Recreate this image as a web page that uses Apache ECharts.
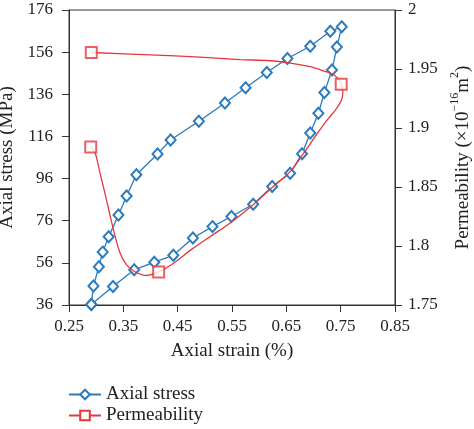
<!DOCTYPE html>
<html><head><meta charset="utf-8">
<script src="https://cdn.jsdelivr.net/npm/echarts@6/dist/echarts.min.js"></script>
<style>html,body{margin:0;padding:0;background:#fff}#c{width:474px;height:429px}</style>
</head><body><div id="c"></div>
<script>
// Axial stress loop (strain %, stress MPa), in path order
const stressStrain = [0.291,0.295,0.305,0.312,0.323,0.341,0.356,0.374,0.413,0.437,0.489,0.537,0.575,0.614,0.652,0.694,0.731,0.752,
  0.743,0.734,0.720,0.709,0.694,0.679,0.657,0.624,0.589,0.549,0.514,0.478,0.442,0.407,0.370,0.331,0.291];
const stressValues = [36.2,45.0,54.2,61.1,68.4,78.7,87.7,97.8,107.7,114.3,123.2,131.9,139.1,146.3,153.0,158.8,165.9,168.1,
  158.4,147.5,136.8,127.0,117.6,107.8,98.5,92.2,83.8,78.0,73.2,67.8,59.6,56.3,52.7,44.8,36.2];
// Permeability measured points (strain %, ×10^-16 m^2)
const permStrain = [0.290,0.415,0.751,0.291];
const permValues = [1.884,1.778,1.937,1.964];
// Permeability fitted curve, in path order
const permCurveStrain = [0.289,0.298,0.307,0.316,0.326,0.335,0.344,0.356,0.372,0.393,0.415,0.441,0.478,0.513,0.548,0.589,0.625,0.657,
  0.681,0.702,0.722,0.740,0.751,0.754,0.751,0.745,0.734,0.721,0.694,0.657,0.620,0.565,0.491,0.399,0.291];
const permCurveValues = [1.884,1.879,1.862,1.845,1.825,1.808,1.794,1.784,1.778,1.775,1.778,1.785,1.798,1.809,1.820,1.835,1.850,1.863,
  1.878,1.892,1.905,1.915,1.923,1.930,1.937,1.942,1.946,1.948,1.952,1.955,1.957,1.958,1.960,1.962,1.964];
const xTicks = {min:0.25, max:0.85, interval:0.1};
const leftTicks = {min:36, max:176, interval:20};
const rightTicks = {min:1.75, max:2.0, interval:0.05};

const FONT = "'Liberation Serif','DejaVu Serif',serif";
const AX = '#333';
const TXT = '#222';
const BLUE = '#2b7bbd';
const RED = '#e5383b';
const chart = echarts.init(document.getElementById('c'));
const axisCommon = {
  axisLine:{show:true,lineStyle:{color:AX,width:1}},
  axisTick:{show:true,inside:false,length:7,lineStyle:{color:AX}},
  splitLine:{show:false},
  axisLabel:{color:TXT,fontFamily:FONT,fontSize:17},
  nameTextStyle:{color:TXT,fontFamily:FONT,fontSize:19}
};
const legendCommon = {orient:'horizontal',left:63,itemWidth:32,itemHeight:12,
  textStyle:{fontFamily:FONT,fontSize:19,color:TXT}};
chart.setOption({
  animation:false,
  backgroundColor:'#fff',
  textStyle:{fontFamily:FONT},
  grid:{left:69,right:79,top:10,bottom:124,containLabel:false,outerBoundsMode:'none',
    show:true,borderColor:AX,borderWidth:1,backgroundColor:'transparent'},
  legend:[
    Object.assign({},legendCommon,{top:380,data:['Axial stress']}),
    Object.assign({},legendCommon,{top:401,data:['Permeability']})
  ],
  xAxis:Object.assign({},axisCommon,{
    type:'value',min:xTicks.min,max:xTicks.max,interval:xTicks.interval,
    name:'Axial strain (%)',nameLocation:'middle',nameGap:37,
    axisLabel:Object.assign({},axisCommon.axisLabel,{margin:13,formatter:v=>v.toFixed(2)})
  }),
  yAxis:[
    Object.assign({},axisCommon,{
      type:'value',min:leftTicks.min,max:leftTicks.max,interval:leftTicks.interval,
      name:'Axial stress (MPa)',nameLocation:'middle',nameGap:43,
      axisLabel:Object.assign({},axisCommon.axisLabel,{margin:16})
    }),
    Object.assign({},axisCommon,{
      type:'value',position:'right',min:rightTicks.min,max:rightTicks.max,interval:rightTicks.interval,
      name:'{n|Permeability (×10}{s|−16}{n|m}{s|2}{n|)}',nameLocation:'middle',nameGap:52,
      nameTextStyle:{color:TXT,fontFamily:FONT,fontSize:19,
        rich:{n:{fontFamily:FONT,fontSize:19,color:TXT,lineHeight:24,verticalAlign:'bottom'},
              s:{fontFamily:FONT,fontSize:12,color:TXT,lineHeight:24,verticalAlign:'top'}}},
      axisLabel:Object.assign({},axisCommon.axisLabel,{margin:13,formatter:v=>String(+v.toFixed(2))})
    })
  ],
  series:[
    {
      name:'Axial stress',type:'line',yAxisIndex:0,
      data:stressStrain.map((x,i)=>[x,stressValues[i]]),
      symbol:'emptyDiamond',symbolSize:[10,11],
      lineStyle:{color:BLUE,width:1.3},itemStyle:{color:BLUE,borderWidth:1.3},z:2
    },
    {
      name:'Permeability',type:'line',yAxisIndex:1,smooth:0.3,
      data:permCurveStrain.map((x,i)=>({value:[x,permCurveValues[i]],symbol:'none'})),
      symbol:'emptyRect',symbolSize:11,
      lineStyle:{color:RED,width:1.3},itemStyle:{color:RED,borderWidth:1.3},z:3
    },
    {
      name:'Permeability',type:'scatter',yAxisIndex:1,
      data:permStrain.map((x,i)=>[x,permValues[i]]),
      symbol:'emptyRect',symbolSize:11,
      itemStyle:{color:RED,borderColor:RED,borderWidth:1.3},z:4
    }
  ]
});
</script></body></html>
